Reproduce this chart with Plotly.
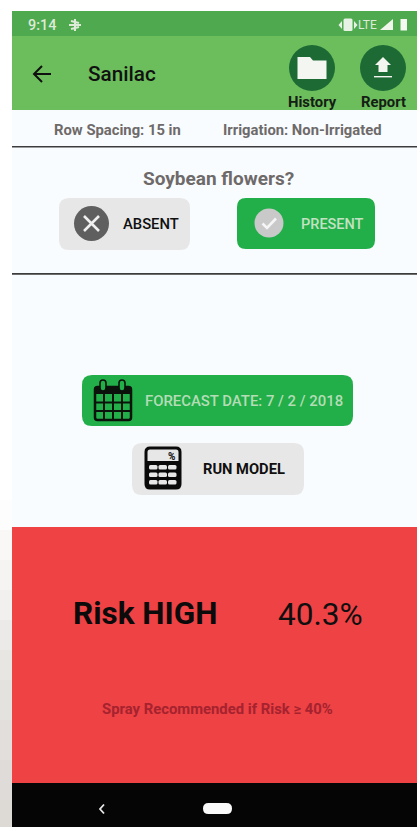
import plotly.graph_objects as go

W, H = 417, 827

# --- content ---
field_name = "Sanilac"
status_time = "9:14"
network = "LTE"
header_actions = ["History", "Report"]
settings = ["Row Spacing: 15 in", "Irrigation: Non-Irrigated"]
question = "Soybean flowers?"
choices = ["ABSENT", "PRESENT"]
forecast_label = "FORECAST DATE: 7 / 2 / 2018"
run_label = "RUN MODEL"
risk_label = "Risk HIGH"
risk_value = 40.3
risk_threshold = 40
advice = "Spray Recommended if Risk \u2265 {}%"

# --- palette ---
PAGE = "#F9FCFE"; STATUS = "#4FA94F"; BAR = "#6CBD5C"; DARK = "#1D6A35"
GREEN = "#22AE49"; GRAY = "#E7E7E7"; RED = "#EE4245"; BLACK = "#050505"
FONT = "Roboto"

shapes = []


def rect(x0, y0, x1, y1, fill, layer="below"):
    shapes.append(dict(type="rect", x0=x0, y0=y0, x1=x1, y1=y1, fillcolor=fill,
                       line=dict(width=0), layer=layer))


def path(d, fill="rgba(0,0,0,0)", line=None, width=0):
    shapes.append(dict(type="path", path=d, fillcolor=fill, layer="above",
                       line=dict(color=line or "rgba(0,0,0,0)", width=width)))


def rrect(x0, y0, x1, y1, r, fill="rgba(0,0,0,0)", line=None, width=0):
    d = (f"M{x0+r},{y0} L{x1-r},{y0} Q{x1},{y0} {x1},{y0+r} L{x1},{y1-r} Q{x1},{y1} {x1-r},{y1} "
         f"L{x0+r},{y1} Q{x0},{y1} {x0},{y1-r} L{x0},{y0+r} Q{x0},{y0} {x0+r},{y0} Z")
    path(d, fill, line, width)


def circle(cx, cy, r, fill):
    shapes.append(dict(type="circle", x0=cx-r, y0=cy-r, x1=cx+r, y1=cy+r, fillcolor=fill,
                       line=dict(width=0), layer="above"))


annotations = []


def text(s, cx, cy, size, color, weight=400):
    annotations.append(dict(text=s, x=cx, y=cy, xref="x", yref="y", showarrow=False,
                            xanchor="center", yanchor="middle", borderpad=0,
                            font=dict(family=FONT, size=size, color=color, weight=weight)))


# --- backgrounds ---
rect(0, 0, W, H, "#FFFFFF")
edge_stops = [(500, "#FDFDFD"), (530, "#F9F8F7"), (560, "#F5F4F3"), (590, "#F1F0EE"), (620, "#ECEAE8"),
              (650, "#E8E6E3"), (680, "#E4E2DF"), (720, "#E1DEDB"), (760, "#DEDBD8"), (800, "#DDD9D5")]
for i, (y0, c) in enumerate(edge_stops):
    y1 = edge_stops[i + 1][0] if i + 1 < len(edge_stops) else H
    rect(0, y0, 12, y1, c)
rect(12, 11, W, H, PAGE)
rect(12, 11, W, 36, STATUS)
rect(12, 36, W, 110, BAR)
rect(12, 146, W, 147.6, "#3C3C3C")
rect(12, 273, W, 274.8, "#3C3C3C")
rect(12, 527, W, 783, RED)
rect(12, 783, W, H, BLACK)

# --- status bar ---
text(status_time, 41.5, 25, 14.4, "#DDEBD8", 500)
path("M75,19 L75,31 M69,25 L81,25 M71,21 L79,23 M71,29 L79,27", line="#DDEBD8", width=2)
path("M345,18.5 L351,18.5 Q352.5,18.5 352.5,20 L352.5,30 Q352.5,31 351,31 L345,31 Q343.5,31 343.5,30 L343.5,20 Q343.5,18.5 345,18.5 Z", fill="#E8F2E4")
path("M342,21 L338.5,25 L342,29 Z M354,21 L357.5,25 L354,29 Z", fill="#E8F2E4")
text(network, 367.5, 24.5, 12, "#DDEBD8", 400)
path("M380,30 L393,30 L393,19 Z", fill="#F0F6EC")
rect(400.5, 19, 407, 30.5, "#F5F9F2", layer="above")

# --- app bar ---
path("M51,74 L34,74 M42,66 L34,74 L42,82", line="#101010", width=2)
text(field_name, 122, 74, 20.7, "#111111", 500)
for cx, label in zip((312, 383), header_actions):
    circle(cx, 68, 23, DARK)
    text(label, cx, 102, 14.8, "#142014", 700)
path("M297.5,57 L310,57 L313,60.5 L326.5,60.5 L326.5,79 L297.5,79 Z", fill="#F4F6F2")
path("M383,57 L391,65 L387.5,65 L387.5,72 L378.5,72 L378.5,65 L375,65 Z", fill="#F4F6F2")
rect(374, 76, 392, 77.4, "#F4F6F2", layer="above")

# --- settings row ---
text(settings[0], 117.5, 130, 14.8, "#6E6A6A", 700)
text(settings[1], 302, 130, 14.8, "#6E6A6A", 700)

# --- question and choices ---
text(question, 218, 178, 19, "#6F6A6A", 700)
rrect(59, 198, 190, 250, 10, fill=GRAY)
circle(91.5, 223.5, 17.5, "#5F5F5F")
path("M84,216 L99,231 M99,216 L84,231", line="#F0F0F0", width=2.6)
text(choices[0], 151, 224, 14.8, "#101010", 500)
rrect(237, 198, 375, 249, 9, fill=GREEN)
circle(269, 223, 14.5, "#C9C9C9")
path("M262.5,223.5 L267,228 L276,218.5", line="#F5F5F5", width=2.6)
text(choices[1], 332, 224, 14.5, "#C3E2C2", 500)

# --- forecast button ---
rrect(82, 375, 353, 426, 10, fill=GREEN)
rrect(95, 387, 131, 420, 2.5, line="#0A120B", width=2.5)
rect(95, 387, 131, 394, "#0A120B", layer="above")
for gx in (104, 113, 122):
    path(f"M{gx},394 L{gx},420", line="#0A120B", width=2)
for gy in (402.5, 411):
    path(f"M95,{gy} L131,{gy}", line="#0A120B", width=2)
for tx in (103, 122):
    rrect(tx-3, 380, tx+3, 391, 3, fill=GREEN, line="#0A120B", width=1.6)
text(forecast_label, 244, 401, 14.9, "#B4DDB6", 500)

# --- run model button ---
rrect(132, 443, 304, 495, 10, fill=GRAY)
rrect(146, 448, 180, 488, 4, fill=GRAY, line="#0A0A0A", width=3)
rect(146, 461, 180, 488, "#0A0A0A", layer="above")
for ry in (465, 472.5, 480):
    for rx in (149, 158.5, 168):
        rrect(rx, ry, rx+8.5, ry+4.5, 1.5, fill="#E7E7E7")
annotations.append(dict(text="%", x=171, y=456, xref="x", yref="y", showarrow=False,
                        font=dict(family=FONT, size=10, color="#222222", weight=900),
                        xanchor="center", yanchor="middle", borderpad=0))
text(run_label, 244, 469, 14.7, "#101010", 700)

# --- result ---
text(risk_label, 145, 613, 31.5, "#0B0B0B", 700)
text(f"{risk_value}%", 320.5, 614, 31.6, "#0F0F0F", 400)
text(advice.format(risk_threshold), 217, 709, 14.85, "#A5222E", 700)

# --- navigation bar ---
path("M104,804.5 L100,809 L104,813.5", line="#E8E8E8", width=1.8)
rrect(203, 803, 232, 814, 5.5, fill="#FAFAFA")

fig = go.Figure()
fig.add_trace(go.Scatter(x=[None], y=[None], hoverinfo="skip", showlegend=False))
fig.update_layout(
    width=W, height=H, margin=dict(l=0, r=0, t=0, b=0, pad=0),
    paper_bgcolor="#FFFFFF", plot_bgcolor="#FFFFFF", showlegend=False,
    xaxis=dict(range=[0, W], visible=False, fixedrange=True),
    yaxis=dict(range=[H, 0], visible=False, fixedrange=True),
    shapes=shapes, annotations=annotations,
)
fig.write_html("out.html", config=dict(displayModeBar=False),
               post_script="document.body.style.margin='0';document.body.style.overflow='hidden';")
